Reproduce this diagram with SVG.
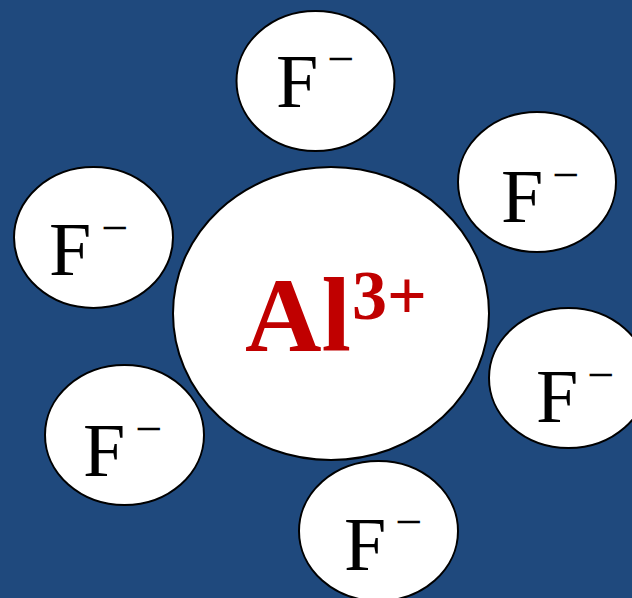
<svg xmlns="http://www.w3.org/2000/svg" width="632" height="598" viewBox="0 0 632 598">
<style>
.ion{fill:#fff;stroke:#000;stroke-width:2}
text{font-family:'Liberation Serif','Times New Roman',Times,serif}
.f{font-size:76px;fill:#000}
.m{font-size:48px;fill:#000}
.al{font-weight:bold;fill:#C00000}
</style>
<rect width="632" height="598" fill="#1F497D"/>
<g id="al">
<ellipse class="ion" cx="331" cy="313.5" rx="158" ry="146.5"/>
<text class="al" x="245" y="351" font-size="106">Al</text>
<text class="al" x="352" y="319" font-size="70">3+</text>
</g>
<g id="f-top">
<ellipse class="ion" cx="315.5" cy="81" rx="79" ry="70"/>
<text class="f" x="276" y="107">F</text>
<text class="m" x="327" y="75">−</text>
</g>
<g id="f-upper-right">
<ellipse class="ion" cx="537" cy="182" rx="79" ry="70"/>
<text class="f" x="501" y="222">F</text>
<text class="m" x="552" y="191">−</text>
</g>
<g id="f-left">
<ellipse class="ion" cx="93.5" cy="237.5" rx="79.5" ry="70.5"/>
<text class="f" x="49" y="275">F</text>
<text class="m" x="101" y="244">−</text>
</g>
<g id="f-right">
<ellipse class="ion" cx="568.5" cy="378" rx="79.5" ry="70"/>
<text class="f" x="536" y="422">F</text>
<text class="m" x="587" y="391">−</text>
</g>
<g id="f-lower-left">
<ellipse class="ion" cx="124.5" cy="435" rx="79.5" ry="70"/>
<text class="f" x="83" y="476">F</text>
<text class="m" x="135" y="445">−</text>
</g>
<g id="f-bottom">
<ellipse class="ion" cx="378.5" cy="531" rx="79.5" ry="70"/>
<text class="f" x="344" y="570">F</text>
<text class="m" x="395" y="538">−</text>
</g>
<g id="connectors"/>
</svg>
